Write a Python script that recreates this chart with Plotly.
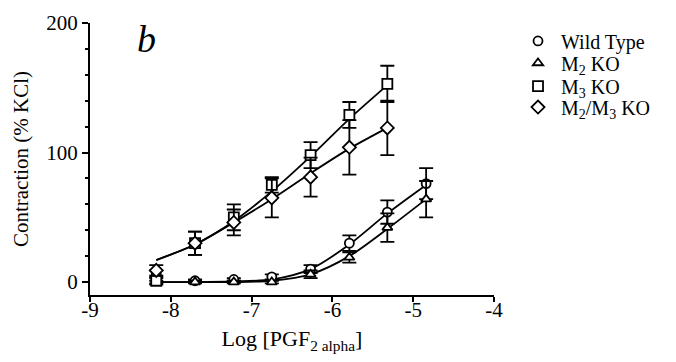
import plotly.graph_objects as go

# Log concentration of PGF2 alpha
log_conc = [-8.18, -7.70, -7.22, -6.75, -6.27, -5.79, -5.32, -4.84]
log_conc_upper = log_conc[:7]

# Mean contraction (% KCl) and SEM
wt_mean = [6, 1, 2, 4, 10, 30, 54, 76]
wt_sem = [3, 1, 1, 2, 3, 6, 9, 12]
m2_mean = [0, 0, 0, 0, 6, 19, 42, 64]
m2_sem = [1, 1, 1, 1, 3, 4, 11, 14]
m3_mean = [1, 30, 50, 75, 98, 129, 153]
m3_sem = [3, 9, 10, 6, 10, 10, 14]
m23_mean = [9, 30, 46, 65, 81, 104, 119]
m23_sem = [4, 9, 10, 15, 15, 21, 21]

# Fitted curves (at each concentration)
wt_fit = [0, 0, 0.5, 2, 10, 29, 53, 75]
m2_fit = [0, 0, 0, 1, 6, 20, 41, 64]
m3_fit = [17, 29, 47, 70, 97, 126, 152]
m23_fit = [17, 29, 46, 64, 84, 103, 119]

names = ["Wild Type", "M<sub>2</sub> KO", "M<sub>3</sub> KO", "M<sub>2</sub>/M<sub>3</sub> KO"]
symbols = ["circle", "triangle-up", "square", "diamond"]
sizes = [9, 9, 10, 10]

x_ticks = [-9, -8, -7, -6, -5, -4]
y_ticks = [0, 100, 200]
y_minor = [20, 40, 60, 80, 120, 140, 160, 180]

FONT = "Liberation Serif"
fig = go.Figure()

for xs, fit in [(log_conc, wt_fit), (log_conc, m2_fit), (log_conc_upper, m3_fit), (log_conc_upper, m23_fit)]:
    fig.add_trace(go.Scatter(x=xs, y=fit, mode="lines",
                             line=dict(color="black", width=1.8, shape="spline", smoothing=0.8),
                             showlegend=False, hoverinfo="skip"))

series = [
    (log_conc, wt_mean, wt_sem),
    (log_conc, m2_mean, m2_sem),
    (log_conc_upper, m3_mean, m3_sem),
    (log_conc_upper, m23_mean, m23_sem),
]
legend_ids = ["legend", "legend2", "legend3", "legend4"]
for (xs, ys, es), name, sym, sz, lg in zip(series, names, symbols, sizes, legend_ids):
    fig.add_trace(go.Scatter(
        x=xs, y=ys, mode="markers", name=name, legend=lg,
        marker=dict(symbol=sym, size=sz, color="white", line=dict(color="black", width=1.8)),
        error_y=dict(type="data", array=es, visible=True, color="black", thickness=1.8, width=7),
    ))

# One legend per row so the rows sit as tightly as in the reference.
legend_rows = [0.934, 0.853, 0.768, 0.691]
legend_style = dict(x=1.052, xanchor="left", yanchor="middle", font=dict(size=20, family=FONT),
                    bgcolor="rgba(0,0,0,0)", itemwidth=36, itemsizing="trace")
legends = {lg: dict(y=yy, **legend_style) for lg, yy in zip(legend_ids, legend_rows)}

# The page body has an 8px margin; size the figure so the plot lands where the reference has it.
fig.update_layout(
    width=660, height=346,
    margin=dict(l=82, r=174, t=15, b=59, autoexpand=False),
    paper_bgcolor="white", plot_bgcolor="white",
    font=dict(family=FONT, color="black", size=19),
    annotations=[dict(text="<i>b</i>", x=-8.30, y=188, xref="x", yref="y", showarrow=False,
                      font=dict(size=38, family=FONT))],
    **legends,
)
fig.update_xaxes(range=[-9, -4], tickvals=x_ticks, ticktext=[str(v) for v in x_ticks],
                 showline=True, linecolor="black", linewidth=2, ticks="outside", ticklen=5, tickwidth=2,
                 tickcolor="black", showgrid=False, zeroline=False, ticklabelstandoff=-10,
                 tickfont=dict(size=21, family=FONT),
                 title=dict(text="Log [PGF<sub>2 alpha</sub>]", font=dict(size=22, family=FONT), standoff=10))
fig.update_yaxes(range=[-10, 200], tickvals=y_ticks,
                 showline=True, linecolor="black", linewidth=2, ticks="outside", ticklen=6, tickwidth=2,
                 tickcolor="black", showgrid=False, zeroline=False,
                 minor=dict(tickvals=y_minor, ticks="outside", ticklen=3, tickwidth=1.5, tickcolor="black"),
                 tickfont=dict(size=21, family=FONT),
                 title=dict(text="Contraction (% KCl)", font=dict(size=21, family=FONT), standoff=12))

fig.write_html("out.html")
